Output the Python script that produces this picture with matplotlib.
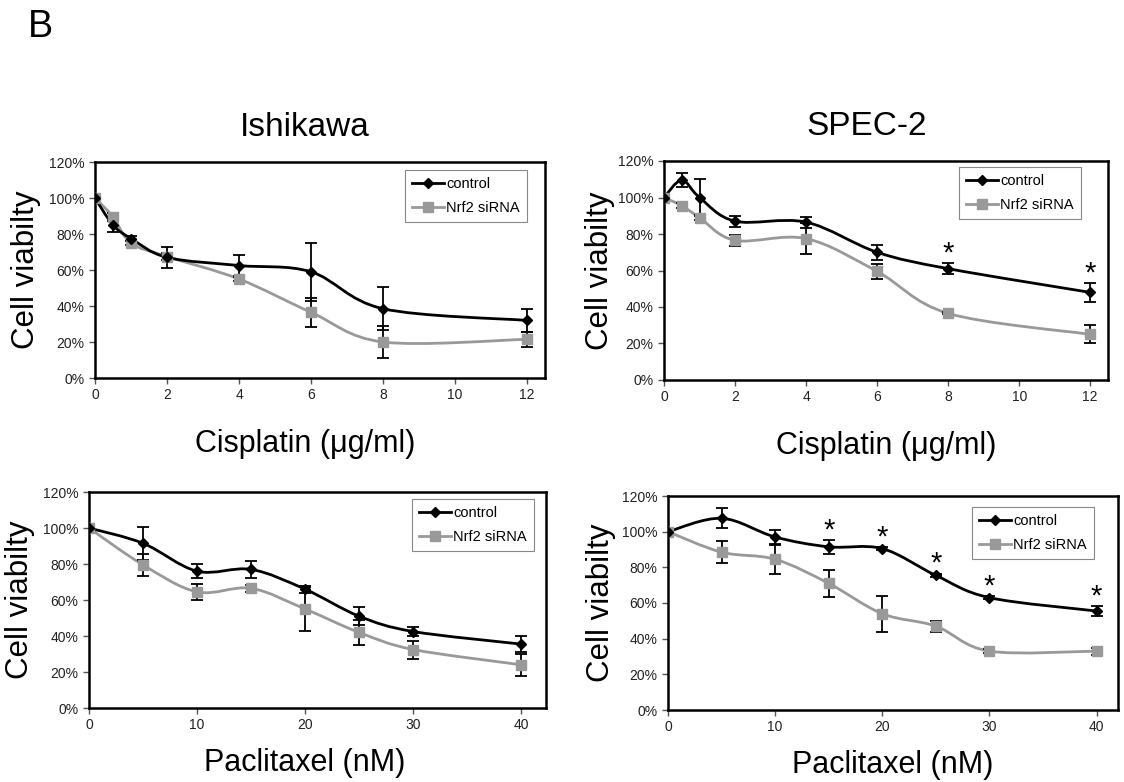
import matplotlib
matplotlib.use('Agg')
import matplotlib.pyplot as plt
from matplotlib.path import Path
from matplotlib.patches import PathPatch
from matplotlib.lines import Line2D
from matplotlib.ticker import PercentFormatter, MultipleLocator

plt.rcParams['font.family'] = ['Liberation Sans', 'DejaVu Sans']

# doses
cis_dose = [0, 0.5, 1, 2, 4, 6, 8, 12]
pac_dose = [0, 5, 10, 15, 20, 25, 30, 40]

# Ishikawa, cisplatin (% viability, mean and error)
ish_cis_ctrl = [100, 85, 77.5, 67, 62.5, 59, 38.5, 32]
ish_cis_ctrl_err = [0, 4, 1.5, 6, 5.7, 16, 12, 6.5]
ish_cis_nrf2 = [100, 89.5, 75, 67.5, 55, 36.5, 20, 21.5]
ish_cis_nrf2_err = [0, 2, 1, 2, 1, 8, 9, 4]

# SPEC-2, cisplatin
spec_cis_ctrl = [100, 109.5, 100, 87, 86.5, 70, 61, 48]
spec_cis_ctrl_err = [0, 4, 10, 3, 3, 4, 3, 5]
spec_cis_nrf2 = [100, 95.5, 89, 76.5, 77.5, 59.5, 36.5, 25]
spec_cis_nrf2_err = [0, 1.5, 1.5, 3, 8.5, 4, 0.5, 5]
spec_cis_stars = [8, 12]

# Ishikawa, paclitaxel
ish_pac_ctrl = [100, 91.5, 76, 77, 66, 51, 42.5, 35.5]
ish_pac_ctrl_err = [0, 9, 4, 4.5, 2, 5, 2.5, 4.5]
ish_pac_nrf2 = [100, 79.5, 64.5, 66.5, 55, 42, 32.5, 24]
ish_pac_nrf2_err = [0, 6, 4.5, 2, 12, 7, 5, 6]

# SPEC-2, paclitaxel
spec_pac_ctrl = [100, 107.5, 97, 91.5, 90.5, 75.5, 63, 55.5]
spec_pac_ctrl_err = [0, 5.5, 4, 4, 1, 1, 1, 3]
spec_pac_nrf2 = [100, 88.5, 84.5, 71, 54, 47, 33, 33]
spec_pac_nrf2_err = [0, 6, 8, 7.5, 10, 3, 1, 2]
spec_pac_stars = [15, 20, 25, 30, 40]

GRAY = '#999999'
W, H = 1124, 782


def smooth_path(x, y):
    # Excel-like smoothed line: Bezier segments through every data point
    pts = list(zip(x, y))
    n = len(pts)
    verts = [pts[0]]
    codes = [Path.MOVETO]
    for i in range(n - 1):
        p0 = pts[i - 1] if i > 0 else pts[i]
        p1 = pts[i]
        p2 = pts[i + 1]
        p3 = pts[i + 2] if i + 2 < n else pts[i + 1]
        c1 = (p1[0] + (p2[0] - p0[0]) / 6, p1[1] + (p2[1] - p0[1]) / 6)
        c2 = (p2[0] - (p3[0] - p1[0]) / 6, p2[1] - (p3[1] - p1[1]) / 6)
        verts += [c1, c2, p2]
        codes += [Path.CURVE4] * 3
    return Path(verts, codes)


def draw_panel(ax, dose, ctrl, ctrl_err, nrf2, nrf2_err, xmax, xstep, xlabel,
               stars=(), legend_at=(0, 0), ylabelpad=6, xlabelpad=18, xlabel_x=0.5):
    ax.add_patch(PathPatch(smooth_path(dose, nrf2), fill=False, edgecolor=GRAY, lw=2, zorder=2))
    ax.add_patch(PathPatch(smooth_path(dose, ctrl), fill=False, edgecolor='black', lw=2, zorder=3))
    ax.errorbar(dose, nrf2, yerr=nrf2_err, fmt='none', ecolor='black', elinewidth=1.3,
                capsize=4, capthick=1.3, zorder=4)
    ax.errorbar(dose, ctrl, yerr=ctrl_err, fmt='none', ecolor='black', elinewidth=1.3,
                capsize=4, capthick=1.3, zorder=4)
    ax.plot(dose, nrf2, ls='none', marker='s', ms=7, color=GRAY, zorder=5)
    ax.plot(dose, ctrl, ls='none', marker='D', ms=5, color='black', zorder=6)

    # significance stars above the control error bars
    for sx in stars:
        i = dose.index(sx)
        ax.text(sx, ctrl[i] + ctrl_err[i] - 2.5, '*', ha='center', va='bottom', fontsize=21)

    ax.set_xlim(0, xmax)
    ax.set_ylim(0, 120)
    ax.xaxis.set_major_locator(MultipleLocator(xstep))
    ax.yaxis.set_major_locator(MultipleLocator(20))
    ax.yaxis.set_major_formatter(PercentFormatter(decimals=0))
    ax.tick_params(labelsize=10, length=4, width=1, color='#555555', labelcolor='#222222')
    for s in ax.spines.values():
        s.set_linewidth(1.8)
    ax.set_ylabel('Cell viabilty', fontsize=22.5, labelpad=ylabelpad)
    ax.set_xlabel(xlabel, fontsize=22, labelpad=xlabelpad)
    ax.xaxis.label.set_x(xlabel_x)

    handles = [Line2D([], [], color='black', lw=2, marker='D', ms=5),
               Line2D([], [], color=GRAY, lw=2, marker='s', ms=7)]
    leg = ax.legend(handles, ['control', 'Nrf2 siRNA'], loc='upper right', fontsize=10.5,
                    fancybox=False, framealpha=1, edgecolor='#888888', handlelength=2.2,
                    handletextpad=0.15, borderpad=0.5, labelspacing=0.65, borderaxespad=0,
                    bbox_to_anchor=(legend_at[0] / W, 1 - legend_at[1] / H),
                    bbox_transform=fig.transFigure)
    leg.get_frame().set_linewidth(0.8)


fig = plt.figure(figsize=(W / 100, H / 100), dpi=100)


def add_ax(left, top, right, bottom):
    return fig.add_axes([left / W, 1 - bottom / H, (right - left) / W, (bottom - top) / H])


ax_tl = add_ax(95, 162, 545, 378)
ax_tr = add_ax(664, 161, 1108, 380)
ax_bl = add_ax(89, 492, 546, 708)
ax_br = add_ax(668, 496, 1118, 710)

cis_label = 'Cisplatin (\u03bcg/ml)'
pac_label = 'Paclitaxel (nM)'

draw_panel(ax_tl, cis_dose, ish_cis_ctrl, ish_cis_ctrl_err, ish_cis_nrf2, ish_cis_nrf2_err,
           12.5, 2, cis_label, legend_at=(527, 170), ylabelpad=6, xlabelpad=19,
           xlabel_x=(305 - 95) / 450)
draw_panel(ax_tr, cis_dose, spec_cis_ctrl, spec_cis_ctrl_err, spec_cis_nrf2, spec_cis_nrf2_err,
           12.5, 2, cis_label, spec_cis_stars, legend_at=(1081, 167), ylabelpad=2,
           xlabelpad=19)
draw_panel(ax_bl, pac_dose, ish_pac_ctrl, ish_pac_ctrl_err, ish_pac_nrf2, ish_pac_nrf2_err,
           42.3, 10, pac_label, legend_at=(534, 499), ylabelpad=6, xlabelpad=11,
           xlabel_x=(305 - 89) / 457)
draw_panel(ax_br, pac_dose, spec_pac_ctrl, spec_pac_ctrl_err, spec_pac_nrf2, spec_pac_nrf2_err,
           42, 10, pac_label, spec_pac_stars, legend_at=(1094, 507), ylabelpad=4,
           xlabelpad=11.5)

fig.text(28 / W, 1 - 37 / H, 'B', fontsize=27, va='baseline', ha='left')
fig.text(305 / W, 1 - 136 / H, 'Ishikawa', fontsize=24, va='baseline', ha='center')
fig.text(867 / W, 1 - 135 / H, 'SPEC-2', fontsize=24, va='baseline', ha='center')

fig.savefig('out.png', dpi=100)
